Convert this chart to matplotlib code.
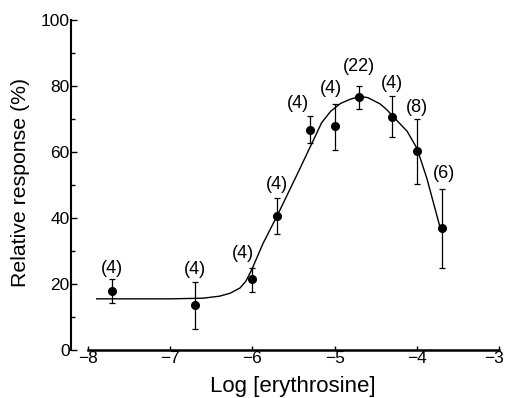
import matplotlib
matplotlib.use("Agg")
import matplotlib.pyplot as plt
from matplotlib.transforms import ScaledTranslation

plt.rcParams["font.family"] = ["Liberation Sans", "DejaVu Sans"]

# mean responses with n
log_conc = [-7.7, -6.7, -6.0, -5.7, -5.3, -5.0, -4.7, -4.3, -4.0, -3.7]
response = [18.0, 13.6, 21.5, 40.6, 66.6, 67.9, 76.6, 70.5, 60.4, 36.9]
err_hi = [3.5, 7.0, 3.3, 5.6, 4.2, 6.5, 3.4, 6.5, 9.6, 11.9]
err_lo = [3.8, 7.2, 3.9, 5.4, 3.8, 7.3, 3.6, 6.0, 10.0, 12.1]
n_obs = ["(4)", "(4)", "(4)", "(4)", "(4)", "(4)", "(22)", "(4)", "(8)", "(6)"]

# fitted curve
curve_x = [-7.89, -7.0, -6.6, -6.4, -6.27, -6.15, -6.08, -6.01, -5.87, -5.70,
           -5.46, -5.26, -5.16, -5.05, -4.93, -4.81, -4.70, -4.60, -4.45, -4.37,
           -4.25, -4.12, -4.00, -3.88, -3.72]
curve_y = [15.5, 15.5, 15.7, 16.3, 17.2, 18.8, 20.8, 24.2, 32.3, 40.6,
           53.0, 63.5, 68.8, 72.3, 74.7, 76.0, 76.8, 76.5, 74.6, 72.9,
           69.7, 66.3, 61.1, 52.0, 37.2]

# nudges for the n labels (points)
label_dx = [0, 0, -7, 0, -8.5, -3, 0, 0, 0, 1.5]
label_dy = [1.5, 3, 4.3, 3.4, 3.3, 5.5, 8, 3, 2, 5]

fig = plt.figure(figsize=(5.05, 3.98), dpi=100)
ax = fig.add_axes([71 / 505, 48 / 398, (499.3 - 71) / 505, 330 / 398])

ax.plot(curve_x, curve_y, color="black", lw=1.0)
ax.errorbar(log_conc, response, yerr=[err_lo, err_hi], fmt="o", color="black",
            ms=5.5, elinewidth=0.9, capsize=2, capthick=0.9)

for x, y, hi, lab, dx, dy in zip(log_conc, response, err_hi, n_obs, label_dx, label_dy):
    ax.annotate(lab, (x, y + hi), xytext=(dx, dy), textcoords="offset points",
                ha="center", va="bottom", fontsize=13)

ax.set_xlim(-8.203, -3)
ax.set_ylim(0, 100)
ax.set_xticks([-8, -7, -6, -5, -4, -3])
ax.set_xticklabels(["\u22128", "\u22127", "\u22126", "\u22125", "\u22124", "\u22123"])
ax.set_yticks([0, 20, 40, 60, 80, 100])
ax.set_yticks([10, 30, 50, 70, 90], minor=True)

ax.spines["top"].set_visible(False)
ax.spines["right"].set_visible(False)
ax.spines["bottom"].set_bounds(-8, -3)
ax.spines["bottom"].set_linewidth(1.8)
ax.spines["left"].set_linewidth(1.5)

ax.tick_params(axis="x", direction="in", length=3, width=1, labelsize=12.5, pad=0.5)
ax.tick_params(axis="y", which="major", direction="in", length=4, width=1,
               labelsize=12.5, pad=1)
ax.tick_params(axis="y", which="minor", direction="in", length=3, width=1)

# keep the last x tick label inside the figure
last = ax.get_xticklabels()[-1]
last.set_transform(last.get_transform() + ScaledTranslation(-5 / 100, 0, fig.dpi_scale_trans))

ax.set_xlabel("Log [erythrosine]", fontsize=16, va="center")
ax.xaxis.set_label_coords(0.517, -0.111)
ax.set_ylabel("Relative response (%)", fontsize=15.3, va="center")
ax.yaxis.set_label_coords(-0.119, 0.508)

fig.savefig("out.png", dpi=100)
